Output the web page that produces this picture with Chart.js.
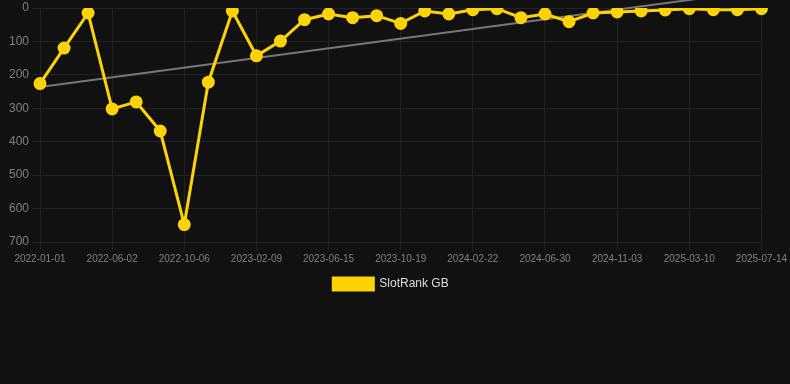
<!DOCTYPE html>
<html>
<head>
<meta charset="utf-8">
<script src="https://cdn.jsdelivr.net/npm/chart.js@4"></script>
<style>
  html, body { margin: 0; padding: 0; background: #111111; }
  #wrap { width: 790px; height: 300px; }
</style>
</head>
<body>
<div id="wrap"><canvas id="myChart"></canvas></div>
<script>
const labels = [
  '2022-01-01', '2022-03-10', '2022-04-21', '2022-06-02', '2022-07-14', '2022-08-25',
  '2022-10-06', '2022-11-17', '2022-12-29', '2023-02-09', '2023-03-23', '2023-05-04',
  '2023-06-15', '2023-07-27', '2023-09-07', '2023-10-19', '2023-11-30', '2024-01-11',
  '2024-02-22', '2024-04-05', '2024-05-18', '2024-06-30', '2024-08-11', '2024-09-22',
  '2024-11-03', '2024-12-15', '2025-01-26', '2025-03-10', '2025-04-21', '2025-06-02',
  '2025-07-14'
];

const rank = [
  226, 120, 15, 302, 281, 368, 648, 222, 9, 143, 99, 35, 18, 29, 23, 46,
  9, 18, 5, 2, 29, 18, 41, 15, 12, 9, 6, 2, 5, 5, 2
];

// straight trend line at the first and last category
const trendStart = 236;
const trendEnd = -53;
const trend = labels.map((l, i) => i === 0 ? trendStart : (i === labels.length - 1 ? trendEnd : null));

const ctx = document.getElementById('myChart').getContext('2d');
const chart = new Chart(ctx, {
  type: 'line',
  data: {
    labels: labels,
    datasets: [
      {
        label: 'SlotRank GB',
        data: rank,
        borderColor: '#ffd300',
        backgroundColor: '#ffd300',
        borderWidth: 3,
        pointRadius: 5,
        pointHoverRadius: 5,
        tension: 0
      },
      {
        label: 'trend',
        data: trend,
        spanGaps: true,
        borderColor: '#777777',
        borderWidth: 2,
        pointRadius: 0,
        clip: false
      }
    ]
  },
  options: {
    responsive: true,
    maintainAspectRatio: false,
    animation: false,
    layout: { padding: { left: 0, right: 8, top: 0, bottom: 0 } },
    plugins: {
      legend: {
        position: 'bottom',
        labels: {
          color: '#dddddd',
          font: { size: 12 },
          filter: item => item.datasetIndex === 0
        }
      },
      tooltip: { enabled: false }
    },
    scales: {
      x: {
        grid: { color: '#222222' },
        border: { color: '#222222' },
        ticks: {
          color: '#808080',
          font: { size: 10 },
          maxRotation: 0,
          autoSkip: true,
          maxTicksLimit: 11
        }
      },
      y: {
        reverse: true,
        min: 0,
        max: 700,
        afterFit: s => { s.width = 40; s.paddingTop = 6; },
        grid: { color: '#222222' },
        border: { color: '#222222' },
        ticks: {
          color: '#808080',
          font: { size: 12 },
          stepSize: 100
        }
      }
    }
  }
});
</script>
</body>
</html>
